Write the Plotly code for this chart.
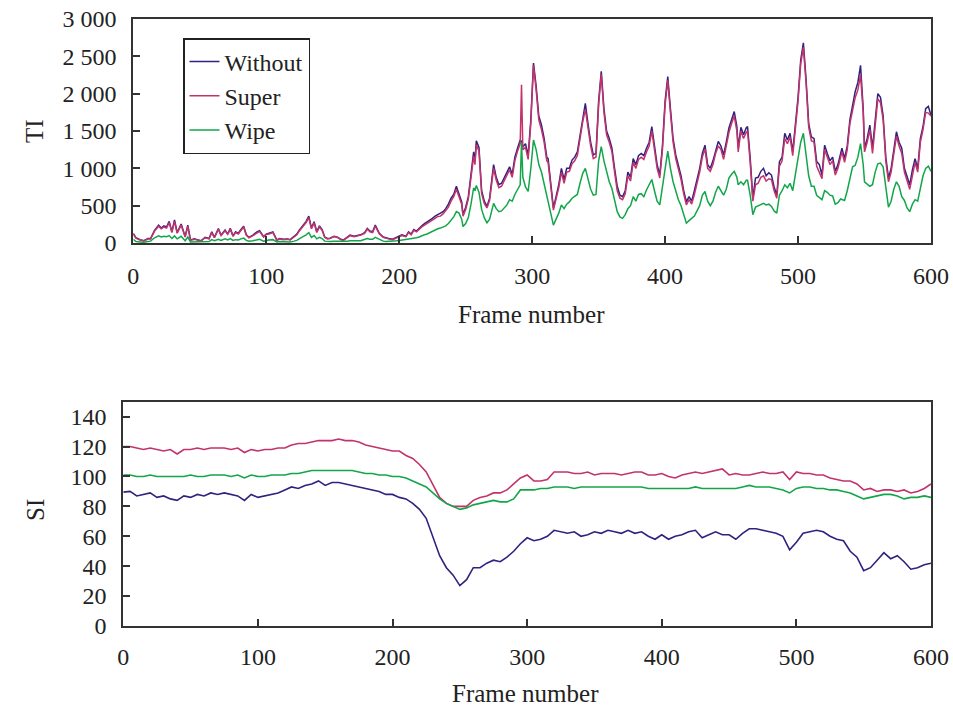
import plotly.graph_objects as go

# ---------------- TI data (top chart) ----------------
ti_frames = [
    0, 2, 5, 8, 11, 13, 16, 19, 21, 23,
    25, 27, 29, 31, 33, 36, 39, 41, 43, 46,
    48, 51, 54, 57, 59, 61, 64, 66, 69, 71,
    73, 75, 77, 79, 81, 83, 85, 87, 90, 93,
    95, 98, 100, 102, 105, 108, 110, 113, 116, 118,
    121, 123, 125, 128, 130, 132, 134, 136, 138, 140,
    142, 144, 146, 148, 151, 154, 156, 158, 161, 163,
    166, 168, 171, 174, 176, 178, 180, 182, 185, 188,
    190, 192, 195, 198, 200, 202, 205, 207, 209, 211,
    213, 215, 217, 219, 221, 223, 225, 227, 229, 231,
    233, 235, 237, 239, 241, 243, 245, 247, 248, 250,
    252, 254, 256, 257, 258, 260, 262, 264, 266, 268,
    270, 271, 273, 275, 277, 279, 281, 283, 285, 287,
    289, 291, 292, 293, 295, 297, 299, 301, 303, 305,
    307, 309, 311, 312, 314, 316, 318, 320, 322, 324,
    326, 328, 330, 332, 334, 336, 338, 340, 342, 344,
    346, 348, 350, 352, 354, 356, 358, 360, 362, 364,
    366, 368, 370, 372, 374, 376, 378, 380, 382, 384,
    386, 388, 390, 392, 394, 396, 398, 400, 402, 404,
    406, 408, 410, 412, 414, 416, 418, 420, 422, 424,
    426, 428, 430, 432, 434, 436, 438, 440, 442, 444,
    446, 448, 450, 452, 454, 455, 457, 459, 461, 462,
    464, 466, 468, 470, 472, 474, 476, 478, 480, 482,
    484, 486, 488, 490, 492, 494, 496, 498, 500, 502,
    504, 506, 508, 510, 512, 514, 516, 518, 520, 522,
    524, 526, 528, 530, 532, 533, 535, 537, 539, 541,
    543, 545, 547, 549, 550, 552, 554, 556, 558, 560,
    562, 564, 566, 568, 570, 572, 574, 576, 578, 580,
    582, 584, 586, 588, 590, 592, 594, 596, 598, 600,
]
ti_without = [
    130, 70, 45, 30, 60, 60, 170, 240, 200, 230,
    215, 290, 150, 310, 140, 255, 85, 240, 40, 55,
    45, 30, 75, 60, 150, 75, 195, 105, 175, 120,
    195, 95, 150, 130, 180, 225, 110, 75, 105, 150,
    165, 85, 120, 130, 150, 40, 60, 50, 55, 45,
    85, 120, 175, 240, 290, 360, 200, 285, 150, 230,
    180, 80, 60, 65, 90, 75, 50, 40, 80, 105,
    90, 95, 110, 140, 195, 160, 150, 240, 130, 80,
    65, 60, 50, 75, 95, 110, 90, 150, 120, 180,
    160, 200, 230, 260, 280, 300, 330, 360, 380, 390,
    420, 460, 520, 600, 650, 760, 650, 550, 380, 480,
    620, 900, 1220, 1100, 1370, 1280, 700, 560, 490, 600,
    900, 1050, 880, 780, 800, 880, 950, 1020, 920, 1150,
    1270, 1380, 1360, 1290, 1330, 1170, 1650, 2410, 2100, 1700,
    1580, 1400, 1150, 1130, 800, 470, 620, 780, 1000, 850,
    1000, 1000, 1110, 1150, 1220, 1450, 1700, 1870, 1600, 1350,
    1180, 1200, 1900, 2300, 1800, 1500, 1400, 1270, 1000, 760,
    640, 620, 700, 950, 880, 1130, 1050, 1170, 1200, 1170,
    1270, 1350, 1560, 1270, 1050, 910, 1300, 1900, 2230, 1800,
    1400, 1180, 1050, 900, 700, 550, 620, 560, 700, 850,
    1000, 1200, 1310, 1050, 1000, 1100, 1250, 1360, 1300, 1180,
    1350, 1540, 1650, 1760, 1560, 1270, 1550, 1450, 1540, 1560,
    1140, 600, 870, 880, 960, 1000, 900, 940, 910, 750,
    640, 1090, 1150, 1470, 1380, 1470, 1220, 1600, 1950, 2450,
    2680, 2200, 1600, 1420, 1400, 1090, 1050, 910, 1310, 1200,
    1100, 1150, 960, 1050, 1200, 1270, 1130, 1300, 1650, 1850,
    2030, 2150, 2380, 1800, 1270, 1400, 1580, 1270, 1600, 2000,
    1950, 1700, 1150, 870, 1000, 1250, 1490, 1350, 1270, 1000,
    900, 780, 980, 1130, 1000, 1400, 1560, 1800, 1830, 1710,
]
ti_super = [
    120, 65, 40, 28, 55, 55, 160, 225, 190, 215,
    200, 275, 140, 290, 130, 240, 80, 225, 35, 50,
    40, 28, 70, 55, 140, 70, 185, 100, 165, 115,
    185, 90, 140, 120, 170, 210, 105, 70, 100, 140,
    155, 80, 115, 120, 140, 35, 55, 45, 50, 40,
    80, 110, 165, 225, 275, 340, 190, 270, 140, 215,
    170, 75, 55, 60, 85, 70, 45, 35, 75, 100,
    85, 90, 105, 130, 185, 150, 140, 225, 125, 75,
    60, 55, 45, 70, 90, 100, 85, 140, 110, 170,
    150, 185, 215, 240, 260, 280, 310, 330, 355, 360,
    390, 430, 480, 560, 620, 720, 620, 520, 360, 450,
    590, 860, 1160, 1050, 1320, 1230, 660, 530, 470, 570,
    860, 1000, 840, 740, 760, 840, 900, 980, 880, 1100,
    1230, 1330, 2120, 1250, 1280, 1120, 1600, 2380, 2050, 1650,
    1520, 1350, 1100, 1080, 760, 440, 590, 740, 950, 800,
    950, 960, 1060, 1100, 1170, 1400, 1620, 1790, 1540, 1300,
    1130, 1150, 1850, 2260, 1750, 1450, 1350, 1220, 950, 700,
    600, 580, 660, 900, 830, 1080, 1000, 1120, 1150, 1120,
    1220, 1300, 1500, 1220, 1000, 870, 1250, 1850, 2180, 1750,
    1350, 1130, 1000, 850, 660, 510, 580, 520, 650, 800,
    950, 1150, 1260, 1000, 960, 1050, 1200, 1300, 1250, 1120,
    1300, 1480, 1600, 1700, 1500, 1220, 1500, 1400, 1480, 1500,
    1080, 560, 780, 800, 880, 900, 830, 860, 850, 700,
    600, 1030, 1100, 1400, 1330, 1420, 1170, 1550, 1900, 2400,
    2620, 2150, 1550, 1370, 1350, 1030, 950, 860, 1250, 1150,
    1050, 1100, 910, 1000, 1150, 1220, 1080, 1250, 1600, 1780,
    1950, 2050, 2250, 1750, 1220, 1350, 1520, 1200, 1550, 1930,
    1880, 1650, 1100, 820, 950, 1200, 1430, 1300, 1200, 950,
    840, 720, 900, 1080, 950, 1350, 1520, 1750, 1740, 1700,
]
ti_wipe = [
    50, 20, 15, 10, 20, 25, 70, 95, 80, 90,
    85, 100, 60, 95, 55, 90, 30, 80, 15, 15,
    15, 10, 20, 20, 45, 30, 50, 35, 55, 40,
    60, 35, 45, 40, 55, 65, 35, 25, 30, 45,
    50, 25, 35, 40, 45, 15, 20, 15, 15, 15,
    25, 35, 60, 85, 110, 140, 75, 100, 55, 75,
    60, 25, 20, 20, 25, 25, 15, 15, 25, 30,
    25, 30, 30, 45, 60, 50, 50, 75, 45, 25,
    20, 20, 20, 30, 35, 40, 40, 50, 55, 60,
    70, 80, 100, 110, 120, 140, 150, 170, 190, 200,
    210, 230, 260, 300, 350, 420, 400, 320, 220, 260,
    340, 520, 740, 700, 770, 680, 450, 340, 270, 320,
    470, 530, 460, 420, 430, 470, 510, 580, 560, 650,
    720, 780, 1350, 880, 750, 690, 1000, 1380, 1250, 1050,
    950, 800, 640, 550, 400, 240, 320, 400, 510, 460,
    520, 550, 600, 630, 650, 800, 930, 1000, 860, 720,
    640, 650, 1100, 1290, 1100, 950, 820, 730, 560, 420,
    350, 330, 380, 460, 500, 620, 560, 650, 660, 620,
    710, 780, 850, 700, 560, 510, 750, 1050, 1230, 1000,
    820, 700, 580, 500, 380, 265, 300, 330, 360, 430,
    500, 640, 690, 560, 500, 560, 680, 760, 700, 640,
    720, 870, 920, 960, 880, 780, 820, 780, 840, 840,
    640, 380, 480, 500, 520, 530, 510, 520, 490, 430,
    400, 640, 700, 780, 740, 800, 700, 900, 1100, 1350,
    1470, 1200, 900, 760, 760, 640, 610, 580, 700, 680,
    640, 630, 520, 540, 590, 580, 570, 700, 880, 1020,
    1040, 1150, 1330, 1050, 820, 790, 760, 780, 950, 1060,
    1070, 1020, 760, 480, 560, 720, 820, 760, 620, 570,
    470, 420, 520, 580, 560, 720, 900, 1000, 1030, 960,
]

# ---------------- SI data (bottom chart), every 5 frames ----------------
si_frames = list(range(0, 601, 5))
si_without = [
    89.5, 90, 87, 88, 89, 86, 87, 85, 84, 87,
    86, 88, 87, 89, 88, 89, 88, 87, 84, 88,
    86, 87, 88, 89, 91, 93, 92, 94, 95, 97,
    94, 96, 96, 95, 94, 93, 92, 91, 90, 88,
    88, 86, 85, 82, 78, 72, 60, 47, 39, 34,
    27, 31, 39, 39, 42, 44, 43, 46, 50, 55,
    59, 57, 58, 60, 64, 63, 62, 63, 60, 61,
    63, 62, 64, 63, 62, 64, 62, 63, 60, 58,
    61, 58, 60, 61, 63, 64, 59, 61, 63, 61,
    61, 58, 62, 65, 65, 64, 63, 62, 60, 51,
    56, 62, 63, 64, 63, 60, 58, 57, 50, 46,
    37, 39, 44, 49, 45, 47, 43, 38, 39, 41,
    42,
]
si_super = [
    120, 120, 119, 118, 119, 118, 117, 118, 115, 118,
    118, 119, 118, 119, 119, 119, 118, 119, 116, 118,
    117, 118, 118, 119, 119, 121, 122, 122, 123, 124,
    124, 124, 125, 124, 124, 123, 121, 120, 119, 118,
    117, 117, 114, 112, 108, 103, 95, 86, 82, 80,
    80, 80, 84, 86, 87, 89, 89, 91, 95, 99,
    101, 97, 97, 98, 103, 103, 103, 102, 102, 103,
    101, 102, 102, 102, 101, 102, 103, 103, 101, 101,
    102, 100, 99, 101, 102, 103, 102, 103, 104, 105,
    101, 102, 101, 101, 102, 103, 102, 102, 103, 98,
    103, 102, 102, 101, 101, 99, 98, 97, 97, 95,
    91, 92, 90, 91, 91, 90, 91, 89, 90, 92,
    95,
]
si_wipe = [
    101, 101, 100, 100, 101, 100, 100, 100, 100, 100,
    101, 100, 100, 101, 101, 101, 100, 101, 99, 101,
    100, 100, 101, 101, 101, 102, 102, 103, 104, 104,
    104, 104, 104, 104, 104, 103, 102, 102, 101, 101,
    100, 100, 99, 97, 95, 93, 89, 85, 82, 80,
    78, 79, 81, 82, 83, 84, 83, 83, 85, 91,
    91, 91, 92, 92, 93, 93, 93, 92, 93, 93,
    93, 93, 93, 93, 93, 93, 93, 93, 92, 92,
    92, 92, 92, 92, 92, 93, 92, 92, 92, 92,
    92, 92, 93, 94, 93, 93, 93, 92, 91, 89,
    92, 93, 93, 92, 92, 91, 91, 90, 89, 87,
    85, 86, 87, 88, 88, 87, 85, 86, 86, 87,
    86,
]

series_names = ["Without", "Super", "Wipe"]
ti_tickvals = [0, 500, 1000, 1500, 2000, 2500, 3000]
ti_ticktext = ["0", "500", "1 000", "1 500", "2 000", "2 500", "3 000"]
si_tickvals = [0, 20, 40, 60, 80, 100, 120, 140]
x_tickvals = [0, 100, 200, 300, 400, 500, 600]

# ---------------- styling ----------------
W, H = 953, 709
colors = ["#33207f", "#c2336b", "#12a64a"]
FONT = "Liberation Serif, Times New Roman, serif"
TXT = "#222222"
AXC = "#333333"

fig = go.Figure()
for name, vals, c in zip(series_names, [ti_without, ti_super, ti_wipe], colors):
    fig.add_trace(go.Scatter(x=ti_frames, y=vals, name=name, mode="lines",
                             line=dict(color=c, width=1.5), xaxis="x", yaxis="y",
                             legendgroup=name))
for name, vals, c in zip(series_names, [si_without, si_super, si_wipe], colors):
    fig.add_trace(go.Scatter(x=si_frames, y=vals, name=name, mode="lines",
                             line=dict(color=c, width=1.6), xaxis="x2", yaxis="y2",
                             showlegend=False, legendgroup=name))

def px_x(p):
    return p / W

def px_y(p):
    return 1 - p / H

axis_common = dict(showline=True, mirror=True, linecolor=AXC, linewidth=2,
                   ticks="inside", ticklen=7, tickwidth=1.5, tickcolor=AXC,
                   showgrid=False, zeroline=False, automargin=False,
                   tickfont=dict(family=FONT, size=24, color=TXT))

fig.update_layout(
    width=W, height=H,
    margin=dict(l=0, r=0, t=0, b=0, pad=0, autoexpand=False),
    paper_bgcolor="white", plot_bgcolor="white",
    font=dict(family=FONT, size=24, color=TXT),
    xaxis=dict(domain=[px_x(133.3), px_x(931)], range=[0, 600], anchor="y",
               tickvals=x_tickvals, ticklabelstandoff=10, **axis_common),
    yaxis=dict(domain=[px_y(243), px_y(19)], range=[0, 3000], anchor="x",
               tickvals=ti_tickvals, ticktext=ti_ticktext, ticklabelstandoff=10,
               **axis_common),
    xaxis2=dict(domain=[px_x(123.3), px_x(931)], range=[0, 600], anchor="y2",
                tickvals=x_tickvals, ticklabelstandoff=8, **axis_common),
    yaxis2=dict(domain=[px_y(626), px_y(401.7)], range=[0, 150], anchor="x2",
                tickvals=si_tickvals, ticklabelstandoff=10, **axis_common),
    legend=dict(x=px_x(183), y=px_y(38), xanchor="left", yanchor="top",
                bordercolor="#222222", borderwidth=1.5, bgcolor="white",
                font=dict(family=FONT, size=24, color=TXT),
                tracegroupgap=0),
    showlegend=True,
)

annots = [
    dict(text="Frame number", x=px_x(531), y=px_y(314)),
    dict(text="Frame number", x=px_x(525), y=px_y(693)),
    dict(text="TI", x=px_x(35), y=px_y(131), textangle=-90),
    dict(text="SI", x=px_x(35), y=px_y(510), textangle=-90),
]
for a in annots:
    fig.add_annotation(xref="paper", yref="paper", showarrow=False,
                       xanchor="center", yanchor="middle",
                       font=dict(family=FONT, size=25, color=TXT), **a)

fig.write_html("out.html")
